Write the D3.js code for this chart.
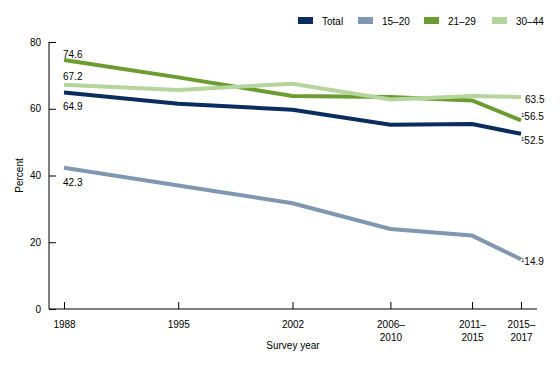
<!DOCTYPE html>
<html>
<head>
<meta charset="utf-8">
<script src="https://cdn.jsdelivr.net/npm/d3@7/dist/d3.min.js"></script>
<style>
  html, body { margin: 0; padding: 0; background: #fff; }
  svg { display: block; font-family: "Liberation Sans", Arial, sans-serif; }
</style>
</head>
<body>
<svg id="chart" width="560" height="368"></svg>
<script>
// ---- data ----
const years = [1988, 1995, 2002, 2008, 2013, 2016];
const tickLabels = [["1988"], ["1995"], ["2002"], ["2006–", "2010"], ["2011–", "2015"], ["2015–", "2017"]];
const seriesNames = ["Total", "15–20", "21–29", "30–44"];
const total   = [64.9, 61.5, 59.7, 55.2, 55.4, 52.5];
const age1520 = [42.3, 37.0, 31.7, 24.0, 22.0, 14.9];
const age2129 = [74.6, 69.4, 63.8, 63.5, 62.5, 56.5];
const age3044 = [67.2, 65.6, 67.5, 62.8, 63.8, 63.5];
const yTicks = [0, 20, 40, 60, 80];
const colors = ["#0a2c5f", "#8097b1", "#6b9c2f", "#b6d59c"];

const seriesValues = [total, age1520, age2129, age3044];

// labels: [series index, point index, dx, dy, superscript]
const valueLabels = [
  [2, 0, -1, -6, false],
  [3, 0, -1, -8, false],
  [0, 0, -1, 14.5, false],
  [1, 0, -1, 15, false],
  [3, 5, 4, 2, false],
  [2, 5, 0, 0, true],
  [0, 5, 0, 10, true],
  [1, 5, 0, 6, true]
];

// ---- layout ----
const svg = d3.select("#chart");
const x = d3.scaleLinear().domain([1988, 2016]).range([64, 521]);
const y = d3.scaleLinear().domain([0, 80]).range([309, 42]);
const axisLeftX = 49, axisRightX = 537;

// axes
const gy = svg.append("g").attr("transform", `translate(${axisLeftX},0)`)
  .call(d3.axisRight(y).tickValues(yTicks).tickSize(7).tickFormat(d3.format("d")));
gy.select(".domain").attr("d", `M0,${y(80)}V${y(0)}`).attr("stroke", "#000");
gy.selectAll(".tick line").attr("stroke", "#000");
gy.selectAll(".tick text").attr("x", -8).attr("text-anchor", "end")
  .attr("font-size", 10).attr("fill", "#000").attr("font-family", "Liberation Sans, Arial, sans-serif");

const gx = svg.append("g").attr("transform", `translate(0,${y(0)})`)
  .call(d3.axisTop(x).tickValues(years).tickSize(7).tickFormat(""));
gx.select(".domain").attr("d", `M${axisLeftX},0H${axisRightX}`).attr("stroke", "#000");
gx.selectAll(".tick line").attr("stroke", "#000");
gx.selectAll(".tick").each(function(d, i) {
  const t = d3.select(this).append("text")
    .attr("text-anchor", "middle").attr("font-size", 10).attr("fill", "#000")
    .attr("font-family", "Liberation Sans, Arial, sans-serif");
  tickLabels[i].forEach((s, k) => {
    t.append("tspan").attr("x", 0).attr("y", 19 + k * 12.5).text(s);
  });
});

// axis titles
svg.append("text").attr("x", (axisLeftX + axisRightX) / 2).attr("y", 349)
  .attr("text-anchor", "middle").attr("font-size", 10).attr("fill", "#000").text("Survey year");
svg.append("text").attr("transform", `translate(23,${(y(0) + y(80)) / 2}) rotate(-90)`)
  .attr("text-anchor", "middle").attr("font-size", 10).attr("fill", "#000").text("Percent");

// lines
const line = d3.line().x((d, i) => x(years[i])).y(d => y(d));
seriesValues.forEach((vals, si) => {
  svg.append("path").datum(vals)
    .attr("d", line).attr("fill", "none")
    .attr("stroke", colors[si]).attr("stroke-width", 4)
    .attr("stroke-linejoin", "miter").attr("stroke-linecap", "butt");
});

// value labels
valueLabels.forEach(([si, pi, dx, dy, sup]) => {
  const v = seriesValues[si][pi];
  const t = svg.append("text")
    .attr("x", x(years[pi]) + dx)
    .attr("y", y(v) + dy)
    .attr("dy", "0.35em")
    .attr("font-size", 10).attr("fill", "#000");
  if (sup) {
    t.append("tspan").attr("font-size", 6).attr("dy", "-0.5em").text("1");
    t.append("tspan").attr("dy", "0.3em").text(v.toFixed(1));
  } else {
    t.text(v.toFixed(1));
  }
});

// legend
const legendX = [298, 358, 424, 492];
const lg = svg.append("g");
seriesNames.forEach((name, i) => {
  lg.append("rect").attr("x", legendX[i]).attr("y", 17).attr("width", 15).attr("height", 7)
    .attr("fill", colors[i]);
  lg.append("text").attr("x", legendX[i] + 24).attr("y", 24.5)
    .attr("font-size", 10).attr("fill", "#000").text(name);
});
</script>
</body>
</html>
